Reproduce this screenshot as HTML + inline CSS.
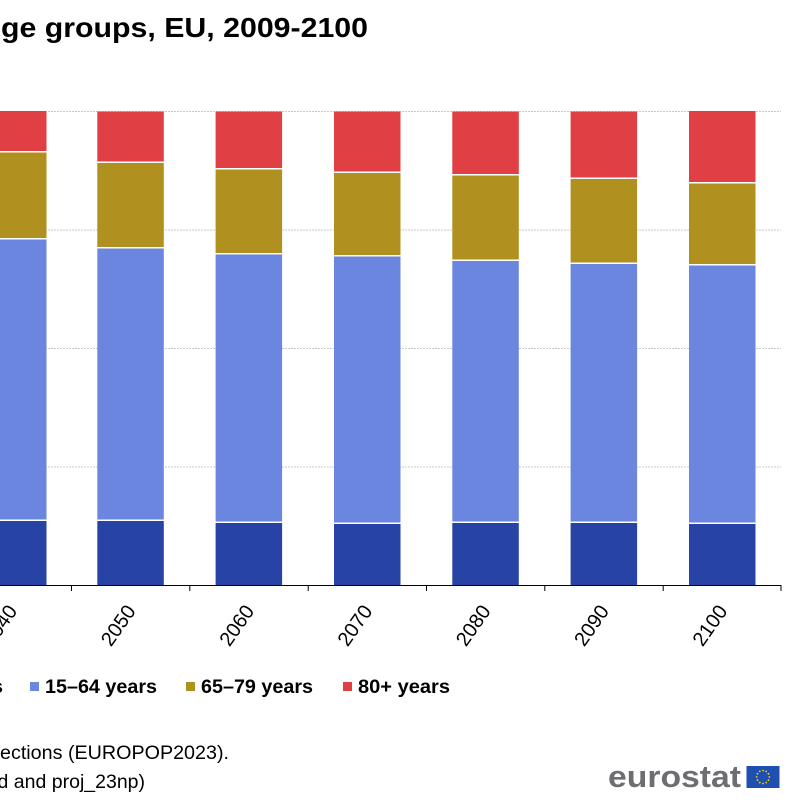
<!DOCTYPE html>
<html>
<head>
<meta charset="utf-8">
<style>
  html,body{margin:0;padding:0;background:#fff;}
  svg{display:block;}
  text{font-family:"Liberation Sans",Arial,sans-serif;}
</style>
</head>
<body>
<svg width="800" height="800" viewBox="0 0 800 800" xmlns="http://www.w3.org/2000/svg">
  <rect width="800" height="800" fill="#fff"/>

  <!-- Title -->
  <text x="368" y="37" text-anchor="end" font-size="28" font-weight="bold" fill="#000" textLength="367" lengthAdjust="spacingAndGlyphs">ge groups, EU, 2009-2100</text>

  <!-- Gridlines -->
  <g stroke="#c8c8c8" stroke-width="1" stroke-dasharray="2,1">
    <line x1="0" y1="111.5" x2="781" y2="111.5"/>
    <line x1="0" y1="230" x2="781" y2="230"/>
    <line x1="0" y1="348.5" x2="781" y2="348.5"/>
    <line x1="0" y1="467" x2="781" y2="467"/>
  </g>

  <!-- Bars -->
  <g>
    <!-- 2040 -->
    <rect x="-20" y="111" width="66.5" height="40" fill="#e04043"/>
    <rect x="-20" y="152.5" width="66.5" height="85.5" fill="#b0901f"/>
    <rect x="-20" y="239.5" width="66.5" height="280" fill="#6b86de"/>
    <rect x="-20" y="521" width="66.5" height="64.5" fill="#2743a6"/>
    <!-- 2050 -->
    <rect x="97.3" y="111.5" width="66.5" height="50" fill="#e04043"/>
    <rect x="97.3" y="163" width="66.5" height="84" fill="#b0901f"/>
    <rect x="97.3" y="248.5" width="66.5" height="271" fill="#6b86de"/>
    <rect x="97.3" y="521" width="66.5" height="64.5" fill="#2743a6"/>
    <!-- 2060 -->
    <rect x="215.6" y="111.5" width="66.5" height="56.5" fill="#e04043"/>
    <rect x="215.6" y="169.5" width="66.5" height="83.5" fill="#b0901f"/>
    <rect x="215.6" y="254.5" width="66.5" height="267" fill="#6b86de"/>
    <rect x="215.6" y="523" width="66.5" height="62.5" fill="#2743a6"/>
    <!-- 2070 -->
    <rect x="334" y="111.5" width="66.5" height="60" fill="#e04043"/>
    <rect x="334" y="173" width="66.5" height="82" fill="#b0901f"/>
    <rect x="334" y="256.5" width="66.5" height="266" fill="#6b86de"/>
    <rect x="334" y="524" width="66.5" height="61.5" fill="#2743a6"/>
    <!-- 2080 -->
    <rect x="452.3" y="111.5" width="66.5" height="62.5" fill="#e04043"/>
    <rect x="452.3" y="175.5" width="66.5" height="84" fill="#b0901f"/>
    <rect x="452.3" y="261" width="66.5" height="260.5" fill="#6b86de"/>
    <rect x="452.3" y="523" width="66.5" height="62.5" fill="#2743a6"/>
    <!-- 2090 -->
    <rect x="570.6" y="111.5" width="66.5" height="66" fill="#e04043"/>
    <rect x="570.6" y="179" width="66.5" height="83.5" fill="#b0901f"/>
    <rect x="570.6" y="264" width="66.5" height="257.5" fill="#6b86de"/>
    <rect x="570.6" y="523" width="66.5" height="62.5" fill="#2743a6"/>
    <!-- 2100 -->
    <rect x="689" y="111" width="66.5" height="71" fill="#e04043"/>
    <rect x="689" y="183.5" width="66.5" height="80.5" fill="#b0901f"/>
    <rect x="689" y="265.5" width="66.5" height="257" fill="#6b86de"/>
    <rect x="689" y="524" width="66.5" height="61.5" fill="#2743a6"/>
  </g>

  <!-- X axis -->
  <line x1="0" y1="585.5" x2="781.5" y2="585.5" stroke="#000" stroke-width="1"/>
  <g stroke="#000" stroke-width="1">
    <line x1="71.5" y1="585.5" x2="71.5" y2="591"/>
    <line x1="189.8" y1="585.5" x2="189.8" y2="591"/>
    <line x1="308.2" y1="585.5" x2="308.2" y2="591"/>
    <line x1="426.5" y1="585.5" x2="426.5" y2="591"/>
    <line x1="544.8" y1="585.5" x2="544.8" y2="591"/>
    <line x1="663.2" y1="585.5" x2="663.2" y2="591"/>
    <line x1="781" y1="585.5" x2="781" y2="591"/>
  </g>

  <!-- X labels -->
  <g font-size="20" fill="#000" text-anchor="end">
    <text transform="translate(18,611) rotate(-55)">2040</text>
    <text transform="translate(136.5,611) rotate(-55)">2050</text>
    <text transform="translate(255,611) rotate(-55)">2060</text>
    <text transform="translate(373.2,611) rotate(-55)">2070</text>
    <text transform="translate(491.5,611) rotate(-55)">2080</text>
    <text transform="translate(609.8,611) rotate(-55)">2090</text>
    <text transform="translate(728.2,611) rotate(-55)">2100</text>
  </g>

  <!-- Legend -->
  <g font-size="19.5" font-weight="bold" fill="#000">
    <text x="3" y="693" text-anchor="end">0–14 years</text>
    <rect x="30" y="682" width="9" height="9" fill="#6b86de"/>
    <text x="45" y="693" textLength="112" lengthAdjust="spacingAndGlyphs">15–64 years</text>
    <rect x="186" y="682" width="9" height="9" fill="#b0901f"/>
    <text x="201" y="693" textLength="112" lengthAdjust="spacingAndGlyphs">65–79 years</text>
    <rect x="343" y="682" width="9" height="9" fill="#e04043"/>
    <text x="358" y="693" textLength="92" lengthAdjust="spacingAndGlyphs">80+ years</text>
  </g>

  <!-- Footer -->
  <g font-size="19.5" fill="#000">
    <text x="0" y="759" textLength="229" lengthAdjust="spacingAndGlyphs">ections (EUROPOP2023).</text>
    <text x="145" y="788" text-anchor="end">d and proj_23np)</text>
  </g>

  <!-- Eurostat logo -->
  <text x="608" y="787" font-size="31" font-weight="bold" fill="#6d6e72" textLength="133" lengthAdjust="spacingAndGlyphs">eurostat</text>
  <rect x="746.5" y="766" width="33" height="22" fill="#1f4fb0"/>
  <g fill="#f5d400">
    <circle cx="763" cy="770.5" r="0.9"/>
    <circle cx="766.2" cy="771.4" r="0.9"/>
    <circle cx="768.5" cy="773.8" r="0.9"/>
    <circle cx="769.3" cy="777" r="0.9"/>
    <circle cx="768.5" cy="780.2" r="0.9"/>
    <circle cx="766.2" cy="782.6" r="0.9"/>
    <circle cx="763" cy="783.5" r="0.9"/>
    <circle cx="759.8" cy="782.6" r="0.9"/>
    <circle cx="757.5" cy="780.2" r="0.9"/>
    <circle cx="756.7" cy="777" r="0.9"/>
    <circle cx="757.5" cy="773.8" r="0.9"/>
    <circle cx="759.8" cy="771.4" r="0.9"/>
  </g>
</svg>
</body>
</html>
